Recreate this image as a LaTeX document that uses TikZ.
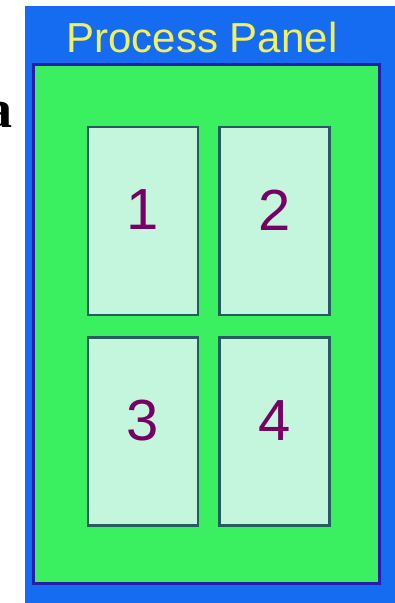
\documentclass[tikz,border=0pt]{standalone}
\usepackage{fontspec}
\setmainfont{Liberation Serif}
\newfontfamily\panelfont{Liberation Sans}
\usetikzlibrary{positioning}
\definecolor{panelblue}{RGB}{22,108,240}
\definecolor{edgeblue}{RGB}{36,30,170}
\definecolor{padgreen}{RGB}{58,240,96}
\definecolor{cellmint}{RGB}{196,246,222}
\definecolor{celledge}{RGB}{38,92,96}
\definecolor{titleyellow}{RGB}{240,240,96}
\definecolor{numpurple}{RGB}{120,0,100}

\begin{document}
\begin{tikzpicture}[x=1pt, y=-1pt, node distance=20pt and 19pt,
  cell/.style={draw=celledge, fill=cellmint, line width=2.5pt, minimum width=110pt,
    minimum height=188pt, inner sep=0pt, text depth=22pt,
    font=\panelfont\fontsize{58}{60}\selectfont, text=numpurple},
  ttl/.style={font=\panelfont\fontsize{42}{44}\selectfont, text=titleyellow, inner sep=0pt}]
  \useasboundingbox (0,0) rectangle (394,603);
  % panel background
  \fill[panelblue] (25,6) rectangle (400,610);
  \draw[edgeblue, line width=3pt, fill=padgreen] (33,64) rectangle (379,583);
  \node[ttl, anchor=base] (title) at (202,52) {Process Panel};
  % the four cells
  \node[cell] (c1) at (143,221) {1};
  \node[cell, right=of c1] (c2) {2};
  \node[cell, below=of c1] (c3) {3};
  \node[cell, right=of c3] (c4) {4};
  % cut-off text at the left
  \node[anchor=base east, inner sep=0pt, font=\bfseries\fontsize{54}{56}\selectfont] (side) at (13,127) {a};
\end{tikzpicture}
\end{document}
